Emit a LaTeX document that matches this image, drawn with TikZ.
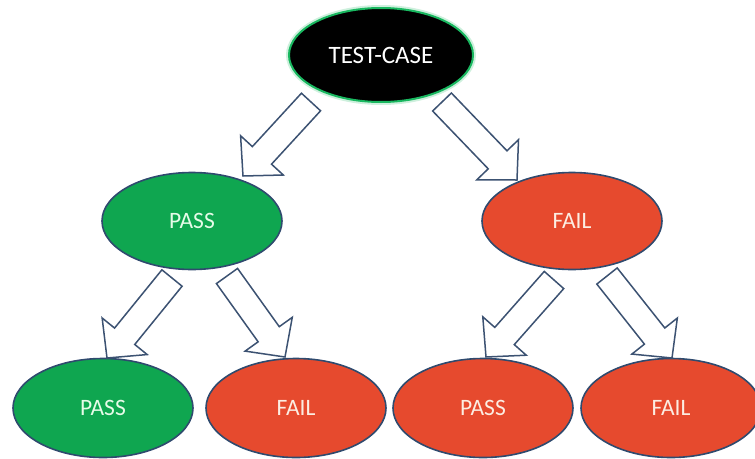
\documentclass[tikz,border=0pt]{standalone}
\usepackage{fontspec}
\setmainfont{Carlito}
\usetikzlibrary{calc,shapes.geometric}

\definecolor{passgreen}{HTML}{0FA650}
\definecolor{failred}{HTML}{E64A2E}
\definecolor{rimblue}{HTML}{2F4A6E}
\definecolor{arrowline}{HTML}{3C5272}
\definecolor{glowgreen}{HTML}{19B860}
\definecolor{passtext}{HTML}{E6FBE8}
\definecolor{failtext}{HTML}{FCEDE2}

\tikzset{
  oval/.style={ellipse, inner sep=0pt, minimum width=180pt, minimum height=97pt,
    draw=rimblue, line width=1.6pt, font=\fontsize{23.5}{27}\selectfont},
  passnode/.style={oval, fill=passgreen, text=passtext},
  failnode/.style={oval, fill=failred, text=failtext},
  rootnode/.style={oval, fill=black, draw=glowgreen, line width=2pt,
    minimum width=184pt, minimum height=94pt, text=white,
    font=\fontsize{25}{29}\selectfont},
  % hollow block arrow built from the start point (tail centre) to the tip
  blockarrow/.style={draw=arrowline, line width=1.5pt, fill=white, line join=miter,
    to path={let \p1=(\tikztostart), \p2=(\tikztotarget),
      \p3=($(\p2)!28pt!(\p1)$) in
      ($(\p1)!13pt!90:(\p2)$) -- ($(\p3)!13pt!90:(\p2)$) --
      ($(\p3)!29pt!90:(\p2)$) -- (\p2) -- ($(\p3)!29pt!-90:(\p2)$) --
      ($(\p3)!13pt!-90:(\p2)$) -- ($(\p1)!13pt!-90:(\p2)$) -- cycle}}
}

\begin{document}
\begin{tikzpicture}[x=1pt, y=-1pt]
\useasboundingbox (0,0) rectangle (755,458);

% soft halo round the root
\fill[glowgreen!35, opacity=0.6] (381,55) ellipse [x radius=95pt, y radius=50pt];

\node[rootnode] (root) at (381,55) {TEST-CASE};

\node[passnode] (pass) at (192,221) {PASS};
\node[failnode] (fail) at (572,221) {FAIL};

\node[passnode, minimum height=99pt] (passpass) at (103,408) {PASS};
\node[failnode, minimum height=99pt] (passfail) at (296,408) {FAIL};
\node[failnode, minimum height=99pt] (failpass) at (483,408) {PASS};
\node[failnode, minimum height=99pt] (failfail) at (671,408) {FAIL};

% block arrows between the levels
\draw[blockarrow] ($(root)+(-70,47)$) to ($(pass)+(51,-45)$);
\draw[blockarrow] ($(root)+(61,47)$) to ($(fail)+(-55,-41)$);

\draw[blockarrow] ($(pass)+(-20,57)$) to ($(passpass)+(4,-50)$);
\draw[blockarrow] ($(pass)+(35,55)$) to ($(passfail)+(-11,-51)$);

\draw[blockarrow] ($(fail)+(-18,59)$) to ($(failpass)+(3,-51)$);
\draw[blockarrow] ($(fail)+(35,55)$) to ($(failfail)+(1,-50)$);
\end{tikzpicture}
\end{document}
